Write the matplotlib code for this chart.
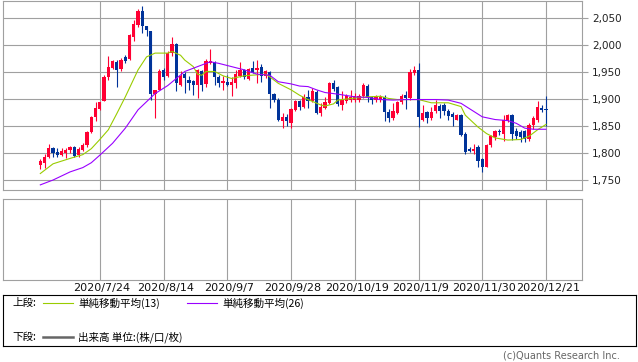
import numpy as np
import pandas as pd
import matplotlib
matplotlib.use('Agg')
import matplotlib.pyplot as plt
from matplotlib.ticker import FuncFormatter
from matplotlib.transforms import ScaledTranslation

plt.rcParams['font.family'] = ['DejaVu Sans', 'Noto Sans CJK JP']

# 日足データ (2020/7/6 - 2020/12/21, 8/31 休場)
dates = pd.bdate_range('2020-07-06', '2020-12-21').drop(pd.Timestamp('2020-08-31'))

open_ = [1777, 1782, 1793, 1809, 1801, 1797, 1800, 1806, 1812, 1796,
         1806, 1814, 1838, 1866, 1882, 1897, 1940, 1957, 1968, 1956,
         1977, 1974, 2015, 2037, 2063, 2036, 2026, 1909, 1917, 1954,
         1943, 1986, 2002, 1926, 1946, 1936, 1933, 1926, 1952, 1928,
         1966, 1969, 1941, 1930, 1932, 1926, 1930, 1943, 1954, 1937,
         1957, 1953, 1960, 1943, 1950, 1910, 1899, 1860, 1867, 1856,
         1880, 1897, 1886, 1903, 1896, 1913, 1875, 1884, 1893, 1929,
         1922, 1889, 1896, 1898, 1898, 1899, 1905, 1924, 1904, 1898,
         1899, 1904, 1876, 1864, 1875, 1894, 1907, 1901, 1948, 1954,
         1862, 1876, 1864, 1877, 1887, 1889, 1878, 1873, 1862, 1870,
         1836, 1807, 1803, 1812, 1788, 1775, 1815, 1829, 1841, 1836,
         1861, 1870, 1840, 1838, 1840, 1826, 1852, 1862, 1884, 1882]
high = [1788, 1798, 1817, 1812, 1809, 1810, 1809, 1813, 1813, 1811,
        1818, 1840, 1869, 1894, 1895, 1944, 1980, 1972, 1972, 1976,
        1981, 2020, 2046, 2066, 2072, 2036, 2026, 1917, 1955, 1958,
        1988, 2015, 2004, 1952, 1950, 1943, 1936, 1956, 1954, 1974,
        1992, 1971, 1944, 1943, 1945, 1941, 1954, 1968, 1956, 1957,
        1970, 1972, 1965, 1953, 1952, 1912, 1901, 1875, 1873, 1884,
        1899, 1899, 1909, 1917, 1920, 1917, 1893, 1903, 1931, 1935,
        1924, 1914, 1910, 1917, 1911, 1909, 1930, 1927, 1906, 1908,
        1907, 1907, 1882, 1893, 1897, 1910, 1914, 1955, 1962, 1966,
        1889, 1878, 1886, 1898, 1890, 1893, 1882, 1876, 1872, 1872,
        1838, 1812, 1817, 1814, 1791, 1817, 1833, 1843, 1845, 1870,
        1873, 1872, 1846, 1842, 1843, 1855, 1868, 1897, 1888, 1905]
low = [1771, 1773, 1790, 1793, 1793, 1795, 1790, 1800, 1793, 1793,
       1804, 1812, 1837, 1859, 1879, 1896, 1935, 1955, 1923, 1951,
       1966, 1972, 2008, 2034, 2023, 2017, 1898, 1864, 1916, 1935,
       1940, 1980, 1915, 1925, 1912, 1917, 1907, 1901, 1914, 1922,
       1964, 1926, 1922, 1917, 1925, 1906, 1921, 1941, 1937, 1935,
       1948, 1929, 1932, 1939, 1883, 1895, 1860, 1847, 1850, 1847,
       1877, 1880, 1883, 1883, 1894, 1873, 1869, 1881, 1891, 1915,
       1887, 1880, 1893, 1895, 1894, 1895, 1902, 1895, 1890, 1894,
       1895, 1860, 1858, 1861, 1872, 1890, 1882, 1899, 1944, 1848,
       1859, 1855, 1862, 1874, 1864, 1870, 1861, 1850, 1861, 1831,
       1799, 1801, 1799, 1775, 1764, 1774, 1812, 1825, 1834, 1823,
       1858, 1824, 1826, 1821, 1820, 1823, 1845, 1858, 1876, 1850]
close = [1786, 1793, 1809, 1800, 1797, 1804, 1806, 1812, 1795, 1808,
         1815, 1838, 1866, 1883, 1894, 1941, 1960, 1970, 1954, 1972,
         1971, 2019, 2039, 2063, 2035, 2027, 1910, 1917, 1952, 1941,
         1986, 2002, 1929, 1943, 1938, 1929, 1926, 1954, 1926, 1971,
         1970, 1941, 1929, 1933, 1926, 1932, 1947, 1954, 1940, 1955,
         1949, 1957, 1943, 1951, 1910, 1898, 1862, 1867, 1859, 1881,
         1897, 1885, 1904, 1896, 1914, 1875, 1886, 1894, 1929, 1919,
         1890, 1899, 1905, 1904, 1905, 1905, 1926, 1902, 1898, 1903,
         1904, 1876, 1865, 1877, 1895, 1906, 1901, 1950, 1954, 1867,
         1875, 1864, 1876, 1889, 1878, 1878, 1869, 1867, 1870, 1833,
         1802, 1803, 1808, 1786, 1775, 1815, 1831, 1841, 1838, 1862,
         1870, 1836, 1831, 1830, 1826, 1852, 1865, 1885, 1880, 1880]

# 単純移動平均 (チャートから読み取った頂点)
ma13_idx = [0, 3, 7, 10, 12, 14, 16, 18, 20, 23, 25, 27, 30, 31, 33, 34, 36, 37,
            38, 39, 41, 43, 45, 48, 53, 54, 56, 59, 61, 63, 66, 67, 69, 70, 73,
            77, 80, 82, 84, 89, 92, 96, 99, 100, 103, 105, 107, 110, 113, 115,
            117, 119]
ma13_val = [1762, 1780, 1790, 1797, 1808, 1825, 1843, 1873, 1904, 1954, 1978,
            1985, 1985, 1988, 1981, 1972, 1960, 1946, 1944, 1951, 1951, 1943,
            1938, 1943, 1946, 1941, 1929, 1917, 1907, 1899, 1889, 1887, 1891,
            1898, 1901, 1904, 1905, 1901, 1899, 1899, 1893, 1893, 1886, 1870,
            1848, 1836, 1828, 1824, 1825, 1831, 1843, 1853]
ma26_idx = [0, 3, 7, 10, 12, 14, 17, 20, 23, 27, 30, 32, 34, 38, 40, 42, 45, 48,
            51, 54, 56, 59, 61, 63, 65, 67, 70, 74, 77, 80, 83, 86, 93, 96, 99,
            101, 104, 107, 110, 112, 114, 116, 119]
ma26_val = [1741, 1750, 1765, 1773, 1782, 1796, 1818, 1846, 1880, 1910, 1925,
            1938, 1951, 1963, 1969, 1966, 1960, 1954, 1946, 1944, 1932, 1928,
            1924, 1923, 1917, 1912, 1909, 1904, 1903, 1899, 1898, 1899, 1899,
            1898, 1892, 1882, 1867, 1862, 1860, 1855, 1846, 1844, 1844]

tick_labels = ['2020/7/24', '2020/8/14', '2020/9/7', '2020/9/28',
               '2020/10/19', '2020/11/9', '2020/11/30', '2020/12/21']

RED = '#ff0033'
BLUE = '#003399'
GRID = '#a0a0a0'

W, H = 638, 362


def frac(x0, y0, x1, y1):
    return [x0 / W, 1 - y1 / H, (x1 - x0) / W, (y1 - y0) / H]


date_str = [f'{d.year}/{d.month}/{d.day}' for d in dates]
tick_pos = [date_str.index(t) for t in tick_labels]
xlim = (-8.78, 127.46)

fig = plt.figure(figsize=(6.38, 3.62), dpi=100)

# 上段: ローソク足 + 移動平均
ax = fig.add_axes(frac(3, 1, 582, 190))
o = np.array(open_)
c = np.array(close)
x = np.arange(len(o))
cols = np.where(c >= o, RED, BLUE)
ax.vlines(x, low, high, colors=cols, lw=0.8, zorder=3)
ax.bar(x, np.maximum(np.abs(c - o), 0.9), bottom=np.minimum(o, c), width=0.75,
       color=cols, linewidth=0, zorder=3)
ax.plot(ma13_idx, ma13_val, color='#99cc00', lw=0.8, zorder=4)
ax.plot(ma26_idx, ma26_val, color='#9900ff', lw=0.8, zorder=4)

ax.set_xlim(*xlim)
ax.set_ylim(1731.5, 2081.5)
ax.set_yticks(range(1750, 2051, 50))
ax.yaxis.tick_right()
ax.yaxis.set_major_formatter(FuncFormatter(lambda v, _: f'{int(v):,}'))
ax.tick_params(axis='y', direction='out', length=4.3, width=0.8, color=GRID,
               pad=3, labelsize=7.5, labelcolor='#222222')
ax.set_xticks(tick_pos)
ax.tick_params(axis='x', length=0, labelbottom=False)
ax.grid(True, color=GRID, lw=0.8)
ax.set_axisbelow(True)
for s in ax.spines.values():
    s.set_color(GRID)
    s.set_linewidth(0.8)

# 下段: 出来高 (空)
ax2 = fig.add_axes(frac(3, 199, 582, 280))
ax2.set_xlim(*xlim)
ax2.set_ylim(0, 1)
ax2.set_yticks([])
ax2.set_xticks(tick_pos)
ax2.set_xticklabels(tick_labels)
ax2.tick_params(axis='x', length=0, pad=2, labelsize=8, labelcolor='#111111')
ax2.grid(True, axis='x', color=GRID, lw=0.8)
for s in ax2.spines.values():
    s.set_color(GRID)
    s.set_linewidth(0.8)
shift = ScaledTranslation(0.02, 0, fig.dpi_scale_trans)
for lbl in ax2.get_xticklabels():
    lbl.set_transform(lbl.get_transform() + shift)

# 凡例
lg = fig.add_axes(frac(3, 295, 636, 346))
lg.set_xlim(0, 633)
lg.set_ylim(51, 0)
lg.set_xticks([])
lg.set_yticks([])
for s in lg.spines.values():
    s.set_color('black')
    s.set_linewidth(0.8)
jp = ['Noto Sans CJK JP', 'DejaVu Sans']
fs = 7.6
lg.text(9, 8, '上段:', fontsize=fs, family=jp, va='center')
lg.plot([40, 70], [8, 8], color='#99cc00', lw=0.8)
lg.text(75, 8, '単純移動平均(13)', fontsize=fs, family=jp, va='center')
lg.plot([184, 214], [8, 8], color='#9900ff', lw=0.8)
lg.text(219, 8, '単純移動平均(26)', fontsize=fs, family=jp, va='center')
lg.text(9, 42, '下段:', fontsize=fs, family=jp, va='center')
lg.plot([40, 70], [42, 42], color='#666666', lw=1.8)
lg.text(75, 42, '出来高 単位:(株/口/枚)', fontsize=fs, family=jp, va='center')

fig.text(620 / W, 1 - 356 / H, '(c)Quants Research Inc.', ha='right',
         va='center', fontsize=7, color='#666666')

fig.savefig('out.png', dpi=100)
